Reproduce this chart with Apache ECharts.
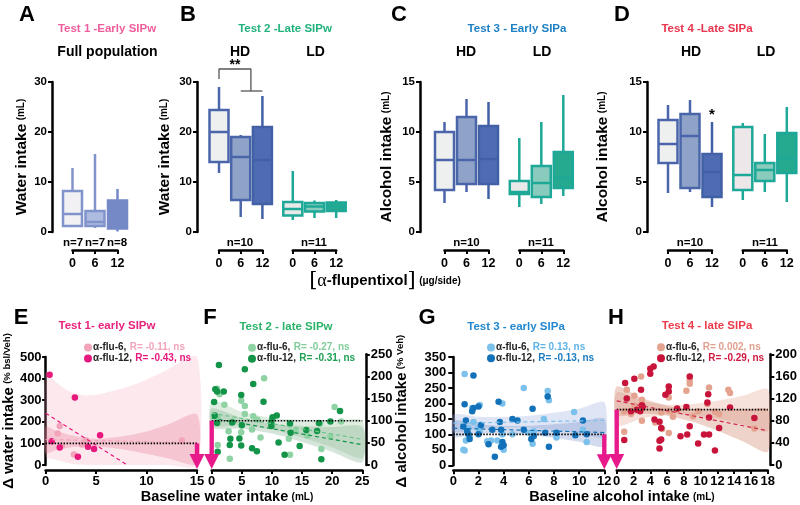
<!DOCTYPE html>
<html><head><meta charset="utf-8">
<script src="https://cdn.jsdelivr.net/npm/echarts@6/dist/echarts.min.js"></script>
<style>html,body{margin:0;padding:0;background:#fff}#c{width:800px;height:505px}</style>
</head><body><div id="c"></div>
<script>
// ---------- DATA ----------
// box plots: [min, Q1, median, Q3, max]
const doseTicks = ['0', '6', '12'];
const boxA    = [[1.0,1.2,3.6,8.2,12.8],[0.8,1.2,2.0,4.2,15.6],[0.1,0.7,2.4,6.3,8.6]];
const boxB_HD = [[11.8,14,20,24.4,29],[3,6.4,15,19,19.4],[2.6,5.6,14.4,21,27.2]];
const boxB_LD = [[2.4,3.3,4.6,6,12.2],[2.8,4.1,5.1,5.8,6.3],[2.8,4.2,5.1,5.9,6.4]];
const boxC_HD = [[2.9,4.2,7.2,10,11],[4.0,4.8,7.2,11.5,13.3],[3.3,4.8,7.3,10.6,13]];
const boxC_LD = [[2.5,3.8,4.0,5.1,9.4],[2.8,3.5,4.9,6.6,11],[3.6,4.4,5.4,8,13.7]];
const boxD_HD = [[3.9,6.9,8.8,11.2,12.7],[4.0,4.4,9.6,11.8,13.2],[2.5,3.5,6.0,7.8,11]];
const boxD_LD = [[3.2,4.2,5.7,10.5,10.9],[4.0,5.1,6.2,6.9,9.8],[3.0,5.9,7.4,9.9,12.5]];
const nA = ['n=7','n=7','n=8'];
const nHD = 'n=10', nLD = 'n=11';

// scatter: [baseline, % change]
const E6  = [[1.4,180],[1.2,146],[1.6,89],[2.8,49],[3.6,95],[4.0,115],[13.5,113]];
const E12 = [[0.4,418],[2.9,312],[0.6,110],[1.4,81],[3.2,38],[4.2,84],[4.8,74],[5.4,138]];
const F6  = [[0.9,172],[1.3,160],[2.1,136],[4.9,145],[8.7,196],[5.5,133],[6.9,110],[2.8,76],[4.9,74],[6.7,80],[8.1,62],[10.1,105],[12.8,59],[13.9,77],[15.9,66],[18.2,36],[20.4,131],[21.5,98],[1.0,45],[3.0,14],[13.0,23],[18.0,94],[1.0,107],[19.7,65],[5.5,115],[10.0,90],[3.5,98],[7.6,102]];
const F12 = [[1.2,226],[5.5,216],[6.9,183],[0.6,171],[0.9,166],[2.0,166],[4.9,158],[8.6,143],[0.4,142],[10.8,112],[21.3,122],[19.7,98],[17.8,95],[0.9,95],[9.9,97],[5.0,90],[3.4,96],[13.1,73],[15.7,79],[17.5,77],[9.9,88],[11.1,51],[14.6,43],[4.9,44],[4.6,60],[3.1,59],[3.0,45],[6.7,38],[7.5,31],[1.0,30],[12.1,23],[18.2,13],[13.0,94],[10.1,108],[0.5,112]];
const G6  = [[0.9,295],[0.8,50],[0.9,48],[1.0,80],[1.2,120],[1.3,95],[1.5,185],[1.6,140],[2.0,120],[2.1,195],[2.7,78],[3.0,80],[3.5,80],[3.9,200],[3.9,100],[4.0,50],[4.7,100],[5.6,250],[6.0,105],[6.3,70],[6.4,110],[7.2,150],[7.5,240],[7.6,210],[8.2,90],[9.6,172],[10.3,115],[10.6,75],[1.1,110],[2.1,108]];
const G12 = [[0.8,125],[0.9,197],[1.0,145],[1.1,110],[1.2,100],[1.3,85],[1.5,175],[1.6,290],[1.6,185],[2.0,190],[2.0,100],[2.2,130],[2.8,68],[3.1,115],[3.3,28],[3.6,205],[3.7,140],[3.8,115],[3.8,60],[3.9,75],[4.0,65],[4.7,150],[5.1,145],[5.6,115],[6.2,85],[6.3,183],[6.4,95],[7.3,105],[7.5,222],[7.6,60],[8.2,105],[9.7,97],[10.3,145],[10.6,100]];
const H6  = [[8.7,153],[8.7,147],[8.3,134],[2.9,160],[1.2,136],[11.0,140],[13.3,136],[13.5,130],[2.1,125],[3.0,118],[6.2,122],[2.1,107],[5.3,95],[6.3,97],[7.2,100],[9.7,97],[11.7,96],[0.9,60],[3.0,80],[5.4,65],[6.2,58],[9.1,88],[16.4,66],[4.6,77],[0.9,97],[6.7,87],[10.8,110],[12.2,92],[1.7,92]];
const H12 = [[4.4,178],[4.0,174],[4.0,165],[2.1,156],[1.0,148],[8.7,160],[6.2,142],[6.2,133],[5.8,127],[2.9,136],[1.2,120],[10.8,113],[10.9,128],[3.0,108],[3.1,105],[2.4,100],[1.7,97],[2.8,97],[7.2,102],[8.3,105],[13.5,104],[11.0,86],[16.4,85],[4.5,82],[5.1,78],[5.3,67],[8.7,70],[12.2,67],[0.9,45],[5.1,44],[5.1,30],[7.6,52],[8.4,55],[10.4,55],[11.0,55],[9.7,39],[11.7,26],[5.3,46]];

// regression lines (end points) and confidence bands
const Efit6 = [[0,118],[15,103]], Efit12 = [[0,240],[8.1,0]];
const Ffit6 = [[0,117],[25,58]],  Ffit12 = [[0,106],[25,46]];
const Gfit6 = [[0,136],[12,145]], Gfit12 = [[0,120],[12,106]];
const Hfit6 = [[0,101],[18,99]],  Hfit12 = [[0,116],[18,62]];

const EbandX = [0,1,2,3,4,5,6,8,10,12,15];
const EbandA_hi = [430,385,350,330,322,325,335,360,395,440,500];
const EbandA_lo = [40,25,12,3,0,0,0,0,0,0,0];
const EbandB_hi = [177,160,145,133,125,122,124,135,155,185,235];
const EbandB_lo = [55,68,78,84,86,85,82,70,52,32,5];
const FbandX = [0,5,10,15,20,25];
const Fband6_hi = [145,120,106,102,100,100], Fband6_lo = [89,90,80,62,40,16];
const Fband12_hi = [128,106,93,88,86,86],   Fband12_lo = [84,82,71,52,30,6];
const GbandX = [0,2,4,6,8,10,12];
const Gband6_hi = [164,157,156,160,170,183,204], Gband6_lo = [108,118,122,121,114,104,90];
const Gband12_hi = [145,133,127,128,133,140,151], Gband12_lo = [92,103,103,98,89,76,61];
const HbandX = [0,3,6,9,12,15,18];
const Hband6_hi = [131,116,109,110,116,125,137], Hband6_lo = [71,84,91,90,84,73,61];
const Hband12_hi = [142,121,107,100,98,99,100], Hband12_lo = [90,93,89,78,62,43,24];

const refLevel = 100;   // dotted reference (100 % = vehicle)
// ---------- STYLE / LAYOUT ----------
const FONT = '"Liberation Sans", Arial, Helvetica, sans-serif';
const hdPos = [0,1,2], ldPos = [3.4,4.4,5.4];
const styA  = [{fill:'#f1f1f4',border:'#8193cb'},{fill:'#aebbe0',border:'#8193cb'},{fill:'#7489c6',border:'#7489c6'}];
const styHD = [{fill:'#eef0ef',border:'#4a65a9'},{fill:'#8fa3c9',border:'#4a65a9'},{fill:'#4f6cb3',border:'#4160a6'}];
const styLD = [{fill:'#e8eae9',border:'#1ea897'},{fill:'#89cbbd',border:'#1ea897'},{fill:'#25a98f',border:'#1ea897'}];
const styLD_D = [{fill:'#ede7ea',border:'#1ea897'},styLD[1],styLD[2]];

const chart = echarts.init(document.getElementById('c'), null, {renderer:'canvas'});

const AXL = {show:true, onZero:false, lineStyle:{color:'#000', width:2.5}};
const tick = (len)=>({show:true, length:len, lineStyle:{color:'#000', width:2}});
const lab = (sz, m)=>({show:true, color:'#000', fontWeight:'bold', fontSize:sz, fontFamily:FONT, margin:m});

function boxSeries(gi, boxes, xs, sty){
  return {type:'custom', xAxisIndex:gi, yAxisIndex:gi, z:3,
    encode:{x:0, y:[1,2,3,4,5]},
    data: boxes.map((b,i)=>[xs[i]].concat(b)),
    renderItem:(p, api)=>{
      const x = api.value(0), s = sty[p.dataIndex], w = 19;
      const lo = api.coord([x, api.value(1)]), q1 = api.coord([x, api.value(2)]),
            md = api.coord([x, api.value(3)]), q3 = api.coord([x, api.value(4)]), hi = api.coord([x, api.value(5)]);
      const ls = {stroke:s.border, lineWidth:2.5};
      return {type:'group', children:[
        {type:'line', shape:{x1:lo[0],y1:lo[1],x2:q1[0],y2:q1[1]}, style:ls},
        {type:'line', shape:{x1:q3[0],y1:q3[1],x2:hi[0],y2:hi[1]}, style:ls},
        {type:'rect', shape:{x:q3[0]-w/2, y:q3[1], width:w, height:q1[1]-q3[1]}, style:{fill:s.fill, stroke:s.border, lineWidth:2.5}},
        {type:'line', shape:{x1:md[0]-w/2,y1:md[1],x2:md[0]+w/2,y2:md[1]}, style:ls}
      ]};
    }};
}
function bandSeries(gi, xs, lo, hi, color){
  return {type:'custom', xAxisIndex:gi, yAxisIndex:gi, silent:true, z:1, data:[[xs[0], lo[0]]],
    renderItem:(p, api)=>{
      const pts = [];
      xs.forEach((x,i)=>pts.push(api.coord([x, hi[i]])));
      for (let i = xs.length-1; i >= 0; i--) pts.push(api.coord([xs[i], lo[i]]));
      return {type:'polygon', shape:{points:pts, smooth:0.25}, style:{fill:color}};
    }};
}
function scatter(gi, data, color){
  return {type:'scatter', xAxisIndex:gi, yAxisIndex:gi, data, symbolSize:6.5, z:3, itemStyle:{color, opacity:1}};
}
function fitLine(gi, data, color){
  return {type:'line', xAxisIndex:gi, yAxisIndex:gi, data, showSymbol:false, z:4, clip:true,
    lineStyle:{color, width:1.2, type:[4,3]}};
}
function refLine(gi, xmax){
  return {type:'line', xAxisIndex:gi, yAxisIndex:gi, data:[[0,refLevel],[xmax,refLevel]], showSymbol:false, z:5,
    lineStyle:{color:'#000', width:1.6, type:[1.5,1.5]}};
}
function arrow(gi, x){
  return {type:'custom', xAxisIndex:gi, yAxisIndex:gi, z:6, data:[[x, refLevel]],
    renderItem:(p, api)=>{
      const top = api.coord([api.value(0), api.value(1)]);
      const base = api.coord([api.value(0), 0]);
      const tip = base[1] + 4, hh = 15, hw = 7.5;
      const col = '#e8198b';
      return {type:'group', children:[
        {type:'rect', shape:{x:top[0]-2.2, y:top[1], width:4.4, height:tip-hh-top[1]+1}, style:{fill:col}},
        {type:'polygon', shape:{points:[[top[0]-hw, tip-hh],[top[0]+hw, tip-hh],[top[0], tip]]}, style:{fill:col}}
      ]};
    }};
}

// grids
const grids = [
  {left:61.25, top:82, width:67.5, height:150},   //0 A
  {left:208.15, top:82, width:138.9, height:150}, //1 B
  {left:433.5, top:82, width:140.8, height:150},  //2 C
  {left:657, top:82, width:140.8, height:150},    //3 D
  {left:72.5, top:249, width:45, height:1},       //4 bracket A
  {left:219, top:249, width:43.4, height:1},      //5 B HD
  {left:292.8, top:249, width:43.4, height:1},    //6 B LD
  {left:444.5, top:249, width:44, height:1},      //7 C HD
  {left:519.3, top:249, width:44, height:1},      //8 C LD
  {left:668, top:249, width:44, height:1},        //9 D HD
  {left:742.8, top:249, width:44, height:1},      //10 D LD
  {left:44, top:357, width:153, height:108},      //11 E
  {left:211.7, top:354.3, width:150.6, height:110.7}, //12 F
  {left:453.3, top:357, width:151, height:108.3}, //13 G
  {left:616.7, top:354.3, width:153, height:110.7}  //14 H
];
const xAxes = [], yAxes = [];
const yName = (t, gap)=>({name:'{a|'+t+'} {b|(mL)}', nameLocation:'middle', nameRotate:90, nameGap:gap,
  nameTextStyle:{rich:{a:{fontSize:15.5, fontWeight:'bold', fontFamily:FONT, color:'#000'}, b:{fontSize:10, fontWeight:'bold', fontFamily:FONT, color:'#000', padding:[0,0,2,0]}}}});
// top box grids
[[2.5, 30,10, 9.25, 'Water intake', 22],[5.9,30,10,11.15,'Water intake',24],[5.9,15,5,13.5,'Alcohol intake',25],[5.9,15,5,10,'Alcohol intake',36]].forEach((c,i)=>{
  xAxes.push({gridIndex:i, type:'value', min:-0.5, max:c[0], show:false});
  yAxes.push(Object.assign({gridIndex:i, type:'value', min:0, max:c[1], interval:c[2], offset:c[3],
    axisLine:AXL, axisTick:tick(4), axisLabel:lab(11.5,5), splitLine:{show:false}}, yName(c[4], c[5])));
});
// bracket grids
for (let g = 4; g <= 10; g++){
  xAxes.push({gridIndex:g, type:'value', min:0, max:12, interval:6, axisLine:AXL, axisTick:tick(4),
    axisLabel:Object.assign(lab(12.5,7), {formatter:(v)=>doseTicks[v/6]}), splitLine:{show:false}});
  yAxes.push({gridIndex:g, type:'value', min:0, max:1, show:false});
}
// scatter grids
const scat = [
  {g:11, xmax:15, xi:5, ymax:500, yi:100, pos:'left', off:0, m:4, tl:3.5},
  {g:12, xmax:25, xi:5, ymax:250, yi:50, pos:'right', off:3.5, m:5, tl:4},
  {g:13, xmax:12, xi:2, ymax:350, yi:50, pos:'left', off:0, m:7, tl:5},
  {g:14, xmax:18, xi:2, ymax:200, yi:40, pos:'right', off:2.5, m:5, tl:4}
];
scat.forEach(s=>{
  xAxes.push({gridIndex:s.g, type:'value', min:0, max:s.xmax, interval:s.xi, offset:5, axisLine:AXL, axisTick:tick(4),
    axisLabel:lab(13,5), splitLine:{show:false}});
  yAxes.push({gridIndex:s.g, type:'value', min:0, max:s.ymax, interval:s.yi, position:s.pos, offset:s.off,
    axisLine:AXL, axisTick:tick(s.tl), axisLabel:lab(13,s.m), splitLine:{show:false}});
});
yAxes[11].name = '{a|\u0394 water intake} {b|(% bsl/Veh)}';
yAxes[13].name = '{a|\u0394 alcohol intake} {b|(% Veh)}';
[11,13].forEach((i,k)=>Object.assign(yAxes[i], {nameLocation:'middle', nameRotate:90, nameGap:k===0?28:44,
  nameTextStyle:{rich:{a:{fontSize:15, fontWeight:'bold', fontFamily:FONT, color:'#000'}, b:{fontSize:9.5, fontWeight:'bold', fontFamily:FONT, color:'#000', padding:[0,0,2,0]}}}}));

const series = [
  boxSeries(0, boxA, hdPos, styA),
  boxSeries(1, boxB_HD, hdPos, styHD), boxSeries(1, boxB_LD, ldPos, styLD),
  boxSeries(2, boxC_HD, hdPos, styHD), boxSeries(2, boxC_LD, ldPos, styLD),
  boxSeries(3, boxD_HD, hdPos, styHD), boxSeries(3, boxD_LD, ldPos, styLD_D),
  // significance bracket in B
  {type:'line', xAxisIndex:1, yAxisIndex:1, clip:false, showSymbol:false, z:5,
   data:[[0,30.6],[0,32.6],[1.47,32.6],[1.47,28.2]], lineStyle:{color:'#555', width:1.3}},
  {type:'line', xAxisIndex:1, yAxisIndex:1, clip:false, showSymbol:false, z:5,
   data:[[1,28.2],[2,28.2]], lineStyle:{color:'#555', width:1.3}},
  // E
  bandSeries(11, EbandX, EbandA_lo, EbandA_hi, 'rgba(240,150,175,0.22)'),
  bandSeries(11, EbandX, EbandB_lo, EbandB_hi, 'rgba(228,120,150,0.30)'),
  scatter(11, E6, '#f2a5ba'), scatter(11, E12, '#e8197d'),
  fitLine(11, Efit6, '#f2a5ba'), fitLine(11, Efit12, '#e8197d'),
  refLine(11, 15), arrow(11, 15),
  // F
  bandSeries(12, FbandX, Fband6_lo, Fband6_hi, 'rgba(150,195,155,0.30)'),
  bandSeries(12, FbandX, Fband12_lo, Fband12_hi, 'rgba(120,170,130,0.30)'),
  scatter(12, F6, '#8fd3a4'), scatter(12, F12, '#139449'),
  fitLine(12, Ffit6, '#6cc48a'), fitLine(12, Ffit12, '#139449'),
  refLine(12, 25), arrow(12, 0),
  // G
  bandSeries(13, GbandX, Gband6_lo, Gband6_hi, 'rgba(150,170,220,0.30)'),
  bandSeries(13, GbandX, Gband12_lo, Gband12_hi, 'rgba(110,135,200,0.30)'),
  scatter(13, G6, '#7cc1ec'), scatter(13, G12, '#1271b8'),
  fitLine(13, Gfit6, '#7cc1ec'), fitLine(13, Gfit12, '#1271b8'),
  refLine(13, 12), arrow(13, 12),
  // H
  bandSeries(14, HbandX, Hband6_lo, Hband6_hi, 'rgba(225,160,135,0.30)'),
  bandSeries(14, HbandX, Hband12_lo, Hband12_hi, 'rgba(205,130,105,0.35)'),
  scatter(14, H6, '#e4a38f'), scatter(14, H12, '#c8143a'),
  fitLine(14, Hfit6, '#e4a38f'), fitLine(14, Hfit12, '#d0284a'),
  refLine(14, 18), arrow(14, 0)
];

// ---------- TEXT ----------
const T = (x, y, text, size, color, extra)=>Object.assign({type:'text', x, y, silent:true, z:10,
  style:{text, x:0, y:0, font:'bold '+size+'px '+FONT, fill:color||'#000', align:'center', verticalAlign:'middle',
         textAlign:'center', textVerticalAlign:'middle'}}, extra||{});
const G = [];
[['A',27,15],['B',188,15],['C',399,15],['D',622,15],['E',21,318],['F',210,318],['G',427,318],['H',616,318]]
  .forEach(a=>G.push(T(a[1],a[2],a[0],22)));
G.push(T(107,29,'Test 1 -Early SIPw',11.5,'#ef5e9c'), T(285,29,'Test 2 -Late SIPw',11.5,'#22b27c'),
       T(517,29,'Test 3 - Early SIPa',11.5,'#1f80c4'), T(707,29,'Test 4 -Late SIPa',11.5,'#e8354d'));
G.push(T(107.5,52,'Full population',14), T(240,52,'HD',14), T(315.5,52,'LD',14), T(466,52,'HD',14), T(542,52,'LD',14),
       T(691,52,'HD',14), T(766,52,'LD',14));
nA.forEach((t,i)=>G.push(T([73,95,117][i],243,t,11.5)));
[[240,nHD],[314,nLD],[466.5,nHD],[541,nLD],[690,nHD],[765,nLD]].forEach(a=>G.push(T(a[0],243,a[1],11.5)));
G.push(T(235,65,'**',14), T(712,115,'*',15));
G.push({type:'text', x:385, y:281, silent:true, style:{x:0,y:0, align:'center', verticalAlign:'middle', textAlign:'center', textVerticalAlign:'middle',
  text:'{br|[}{al|\u03b1}{b|-flupentixol}{br|]} {s|(\u03bcg/side)}',
  rich:{br:{fontSize:21, fontFamily:'"DejaVu Serif", serif', fill:'#000'},
        al:{fontSize:18, fontFamily:'"Liberation Serif", serif', fill:'#000'},
        b:{fontSize:15, fontWeight:'bold', fontFamily:FONT, fill:'#000'},
        s:{fontSize:10, fontWeight:'bold', fontFamily:FONT, fill:'#000'}}}});
G.push(T(107,326,'Test 1- early SIPw',11.5,'#e8237e'), T(286,326.5,'Test 2 - late SIPw',11.5,'#2bb36a'),
       T(516,326.5,'Test 3 - early SIPa',11.5,'#2388cf'), T(707,326,'Test 4 - late SIPa',11.5,'#eb3a4a'));
function legend(x, y, dotColor, name, rText, rColor){
  G.push({type:'circle', silent:true, z:10, shape:{cx:x, cy:y, r:4}, style:{fill:dotColor}});
  G.push({type:'text', x:x+5, y:y, silent:true, z:10, style:{x:0,y:0, align:'left', verticalAlign:'middle', textAlign:'left', textVerticalAlign:'middle',
    text:'{k|'+name+'} {r|'+rText+'}',
    rich:{k:{fontSize:10, fontWeight:'bold', fontFamily:FONT, fill:'#222'}, r:{fontSize:10, fontWeight:'bold', fontFamily:FONT, fill:rColor}}}});
}
legend(88,347.5,'#f2a5ba','\u03b1-flu-6,','R= -0.11, ns','#f2a5ba');
legend(88,358.5,'#e8197d','\u03b1-flu-12,','R= -0.43, ns','#e8197d');
legend(252,347.7,'#8fd3a4','\u03b1-flu-6,','R= -0.27, ns','#80cc9a');
legend(252,358.7,'#139449','\u03b1-flu-12,','R= -0.31, ns','#1fa055');
legend(491,347.5,'#7cc1ec','\u03b1-flu-6,','R= 0.13, ns','#5fb3e6');
legend(491,358.3,'#1271b8','\u03b1-flu-12,','R= -0.13, ns','#1a7cc0');
legend(661,347.3,'#e4a38f','\u03b1-flu-6,','R= 0.002, ns','#e0a090');
legend(661,358.3,'#c8143a','\u03b1-flu-12,','R= -0.29, ns','#d01a40');
const xt = (x, t)=>({type:'text', x, y:497, silent:true, style:{x:0,y:0, align:'center', verticalAlign:'middle', textAlign:'center', textVerticalAlign:'middle',
  text:'{a|'+t+'} {b|(mL)}', rich:{a:{fontSize:14.5, fontWeight:'bold', fontFamily:FONT, fill:'#000'}, b:{fontSize:10, fontWeight:'bold', fontFamily:FONT, fill:'#000'}}}});
G.push(xt(227,'Baseline water intake'), xt(622,'Baseline alcohol intake'));

chart.setOption({animation:false, backgroundColor:'#fff', grid:grids, xAxis:xAxes, yAxis:yAxes, series, graphic:{elements:G}});
</script></body></html>
